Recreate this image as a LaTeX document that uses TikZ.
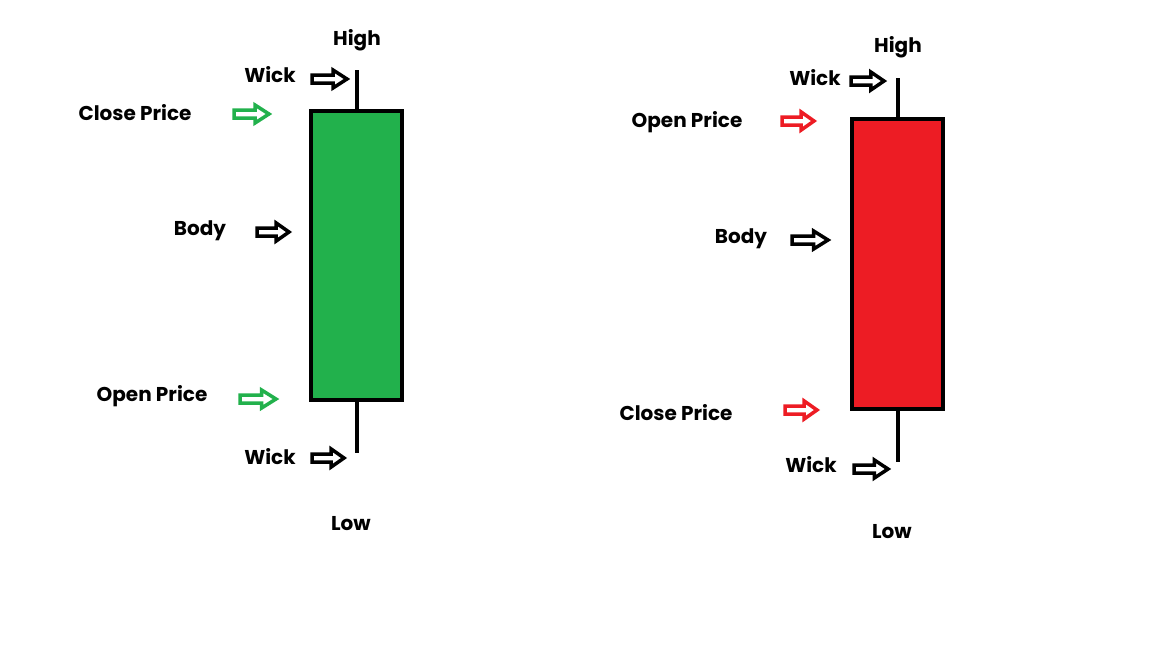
\documentclass[tikz,border=0pt]{standalone}
\usepackage{fontspec}
\setmainfont{Poppins}
\definecolor{bull}{HTML}{22B14C}
\definecolor{bear}{HTML}{ED1C24}
\tikzset{
  px/.style={x=1pt,y=-1pt},
  lbl/.style={font=\bfseries\fontsize{20}{24}\selectfont, inner sep=0pt},
  candlebody/.style={draw=black, line width=4pt},
  wickline/.style={draw=black, line width=4pt},
  hollowarrow/.style={draw=#1, line width=3.5pt, line join=miter, fill=white},
}
% \harrow{color}{x0}{x1}{y}
\newcommand\harrow[4]{%
  \draw[hollowarrow=#1] (#2,#4-4) -- ({#2+0.6*(#3-#2)},#4-4) -- ({#2+0.6*(#3-#2)},#4-9)
    -- (#3,#4) -- ({#2+0.6*(#3-#2)},#4+9) -- ({#2+0.6*(#3-#2)},#4+4) -- (#2,#4+4) -- cycle;}
\begin{document}
\begin{tikzpicture}[px]
\useasboundingbox (0,0) rectangle (1152,648);
\fill[white] (0,0) rectangle (1152,648);
% left (bullish) candle
\draw[wickline] (357,70) coordinate (lhigh) -- (357,111);
\draw[wickline] (357,400) -- (357,453) coordinate (llow);
\draw[candlebody, fill=bull] (311,111) rectangle (402,400);
\node[lbl] (lH) at (357,40) {High};
\node[lbl] (lW1) at (270,75) {Wick};
\node[lbl] (lC) at (135,113) {Close Price};
\node[lbl] (lB) at (200,231) {Body};
\node[lbl] (lO) at (152,396) {Open Price};
\node[lbl] (lW2) at (270,457) {Wick};
\node[lbl] (lL) at (351,524) {Low};
\harrow{black}{312}{347}{79}
\harrow{bull}{234}{269}{114}
\harrow{black}{257}{289}{232}
\harrow{bull}{240}{276}{399}
\harrow{black}{312}{344}{458}
% right (bearish) candle
\draw[wickline] (898,78) coordinate (rhigh) -- (898,119);
\draw[wickline] (898,409) -- (898,462) coordinate (rlow);
\draw[candlebody, fill=bear] (852,119) rectangle (943,409);
\node[lbl] (rH) at (898,47) {High};
\node[lbl] (rW1) at (815,78) {Wick};
\node[lbl] (rO) at (687,122) {Open Price};
\node[lbl] (rB) at (741,239) {Body};
\node[lbl] (rC) at (676,413) {Close Price};
\node[lbl] (rW2) at (811,465) {Wick};
\node[lbl] (rL) at (892,532) {Low};
\harrow{black}{851}{884}{81}
\harrow{bear}{782}{814}{121}
\harrow{black}{792}{828}{240}
\harrow{bear}{785}{817}{410}
\harrow{black}{854}{888}{469}
\end{tikzpicture}
\end{document}
